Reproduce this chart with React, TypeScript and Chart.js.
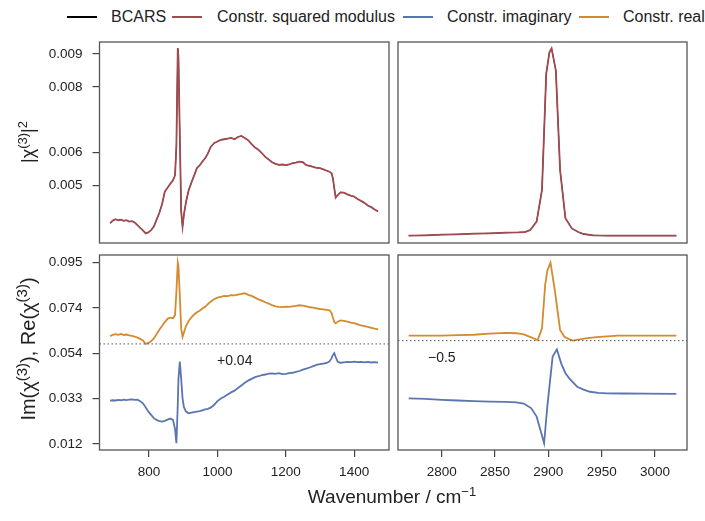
import React, { useEffect, useRef } from 'react';
import { Chart, registerables } from 'chart.js';
Chart.register(...registerables);

const FONT = '"Liberation Sans", Arial, Helvetica, sans-serif';
Chart.defaults.font.family = FONT;

// ---------- colours ----------
const C_BCARS = '#000000';
const C_MOD = '#A04B50';
const C_IMAG = '#5B74B2';
const C_REAL = '#D48A2E';

// ---------- axes ----------
const xRangeLeft = [655, 1502];
const xRangeRight = [2759, 3030];
const xTicksLeft = [800, 1000, 1200, 1400];
const xTicksRight = [2800, 2850, 2900, 2950, 3000];
const yRangeTop = [0.003236, 0.009366];
const yTicksTop = [0.005, 0.006, 0.008, 0.009];
const yTickLabelsTop = ['0.005', '0.006', '0.008', '0.009'];
const yRangeBottom = [0.00942, 0.09873];
const yTicksBottom = [0.0122, 0.03295, 0.0537, 0.07445, 0.0952];
const yTickLabelsBottom = ['0.012', '0.033', '0.054', '0.074', '0.095'];
const dottedLeft = 0.058;
const dottedRight = 0.0595;

// ---------- left region data (fingerprint) ----------
const xLeft = [686, 694, 702, 710, 718, 726, 734, 742, 750, 758, 766, 774, 782, 790, 798, 806, 814, 822, 830, 838, 846, 854, 862, 870, 876, 880, 884, 886, 890, 894, 898, 902, 908, 916, 924, 932, 940, 948, 956, 964, 972, 980, 990, 1000, 1010, 1020, 1030, 1040, 1050, 1060, 1070, 1080, 1090, 1100, 1110, 1120, 1130, 1140, 1150, 1160, 1170, 1180, 1190, 1200, 1210, 1220, 1230, 1240, 1250, 1260, 1270, 1280, 1290, 1300, 1310, 1320, 1328, 1334, 1338, 1342, 1346, 1352, 1360, 1370, 1380, 1390, 1400, 1410, 1420, 1430, 1440, 1450, 1460, 1470];

const modLeft = [0.00384, 0.00392, 0.00396, 0.00393, 0.00395, 0.00391, 0.00393, 0.00389, 0.0039, 0.00386, 0.00378, 0.0037, 0.00362, 0.00353, 0.00356, 0.00363, 0.00374, 0.00395, 0.00415, 0.00442, 0.0048, 0.00492, 0.00504, 0.00515, 0.0053, 0.0062, 0.00917, 0.0089, 0.0065, 0.0042, 0.00373, 0.0041, 0.00448, 0.00485, 0.00508, 0.0053, 0.00552, 0.0056, 0.00572, 0.00582, 0.00596, 0.00616, 0.00628, 0.00633, 0.00638, 0.0064, 0.00642, 0.00644, 0.0064, 0.00647, 0.0065, 0.00644, 0.00637, 0.00625, 0.00615, 0.00608, 0.00598, 0.00586, 0.00578, 0.0057, 0.00565, 0.00562, 0.00563, 0.00561, 0.00563, 0.00567, 0.00569, 0.00572, 0.0057, 0.00561, 0.00559, 0.00556, 0.00553, 0.00552, 0.00548, 0.00544, 0.00541, 0.00536, 0.0052, 0.0049, 0.00462, 0.0047, 0.00478, 0.00477, 0.00472, 0.00468, 0.00465, 0.00458, 0.00452, 0.00446, 0.00438, 0.00433, 0.00426, 0.0042];

const realLeft = [0.0616, 0.0622, 0.0625, 0.0622, 0.0626, 0.0621, 0.0623, 0.0619, 0.0617, 0.0614, 0.0609, 0.0603, 0.0596, 0.058, 0.0585, 0.0592, 0.0605, 0.0625, 0.0645, 0.0662, 0.068, 0.0695, 0.07, 0.0698, 0.0712, 0.082, 0.0952, 0.0935, 0.08, 0.065, 0.0612, 0.0632, 0.0662, 0.0685, 0.0702, 0.0715, 0.0725, 0.0732, 0.0742, 0.075, 0.0762, 0.0773, 0.0785, 0.0792, 0.0796, 0.08, 0.0799, 0.0803, 0.0802, 0.0806, 0.0809, 0.0812, 0.0805, 0.08, 0.0792, 0.0784, 0.0778, 0.0771, 0.0765, 0.0758, 0.0752, 0.075, 0.0749, 0.0751, 0.075, 0.0752, 0.0754, 0.0757, 0.0755, 0.0752, 0.0748, 0.0746, 0.0743, 0.074, 0.0738, 0.0736, 0.0734, 0.0722, 0.07, 0.068, 0.0674, 0.0682, 0.0688, 0.0686, 0.0682, 0.0678, 0.0675, 0.067, 0.0665, 0.0662, 0.0658, 0.0654, 0.065, 0.0647];

const imagLeft = [0.032, 0.0322, 0.0321, 0.0324, 0.0322, 0.0325, 0.0323, 0.0325, 0.0326, 0.0324, 0.0325, 0.0318, 0.0308, 0.029, 0.027, 0.0255, 0.024, 0.0232, 0.0226, 0.0224, 0.0228, 0.0233, 0.0238, 0.0232, 0.019, 0.0125, 0.03, 0.042, 0.0499, 0.042, 0.033, 0.029, 0.027, 0.0262, 0.0265, 0.0268, 0.027, 0.0272, 0.0276, 0.028, 0.0283, 0.0288, 0.03, 0.0318, 0.033, 0.0338, 0.0348, 0.0358, 0.0366, 0.0378, 0.039, 0.0402, 0.0412, 0.042, 0.0428, 0.0432, 0.0437, 0.044, 0.0444, 0.0445, 0.0443, 0.0446, 0.0442, 0.0443, 0.0446, 0.0448, 0.0452, 0.0456, 0.0462, 0.0467, 0.0472, 0.0478, 0.0484, 0.0487, 0.049, 0.0493, 0.05, 0.0515, 0.053, 0.0538, 0.052, 0.0498, 0.0494, 0.0496, 0.0498, 0.0497, 0.0499, 0.0497, 0.0498, 0.0496, 0.0498, 0.0495, 0.0497, 0.0494];

// ---------- right region data (CH stretch) ----------
const xModRight = [2769, 2785, 2800, 2815, 2830, 2845, 2860, 2872, 2878, 2883, 2889, 2894, 2898, 2901, 2903, 2907, 2911, 2916, 2922, 2928, 2933, 2942, 2955, 2970, 2985, 3000, 3020];
const modRight = [0.00346, 0.00347, 0.00349, 0.0035, 0.00352, 0.00353, 0.00355, 0.00356, 0.00357, 0.00363, 0.00389, 0.00485, 0.0084, 0.00905, 0.00917, 0.0085, 0.00546, 0.00399, 0.00368, 0.00357, 0.00351, 0.00347, 0.00346, 0.00346, 0.00346, 0.00346, 0.00346];

const xRealRight = [2769, 2785, 2800, 2815, 2830, 2845, 2860, 2870, 2877, 2884, 2890, 2894, 2897, 2899, 2902, 2906, 2911, 2915, 2919, 2923, 2928, 2935, 2945, 2955, 2965, 2980, 3000, 3020];
const realRight = [0.0618, 0.0618, 0.0618, 0.062, 0.0622, 0.0627, 0.0631, 0.0629, 0.0624, 0.061, 0.0598, 0.065, 0.085, 0.0915, 0.0952, 0.0827, 0.0644, 0.0613, 0.0603, 0.0595, 0.06, 0.0605, 0.0611, 0.0615, 0.0618, 0.0618, 0.0618, 0.0618];

const xImagRight = [2769, 2785, 2800, 2815, 2830, 2845, 2860, 2870, 2877, 2884, 2889, 2893, 2896, 2899, 2904, 2908, 2912, 2916, 2920, 2927, 2933, 2939, 2947, 2955, 2970, 2990, 3020];
const imagRight = [0.0331, 0.0328, 0.0324, 0.0321, 0.0318, 0.0316, 0.0315, 0.0312, 0.0307, 0.0285, 0.0247, 0.0178, 0.0125, 0.0293, 0.0522, 0.0555, 0.0491, 0.0446, 0.042, 0.0384, 0.0371, 0.0361, 0.0356, 0.0354, 0.0353, 0.0352, 0.0351];

// ---------- helpers ----------
const boxPlugin = {
  id: 'panelBox',
  afterDraw(chart: any) {
    const { ctx, chartArea: a } = chart;
    ctx.save();
    ctx.strokeStyle = '#555555';
    ctx.lineWidth = 1.3;
    ctx.strokeRect(a.left, a.top, a.right - a.left, a.bottom - a.top);
    ctx.restore();
  },
};

function series(xs: number[], ys: number[], color: string, width = 1.8, dash: number[] = []) {
  return {
    data: xs.map((x, i) => ({ x, y: ys[i] })),
    borderColor: color,
    backgroundColor: color,
    borderWidth: width,
    borderDash: dash,
    pointRadius: 0,
    tension: 0,
    fill: false,
  };
}

const tickFont = { family: FONT, size: 13.5 };
const gridOpts = { display: true, drawOnChartArea: false, drawTicks: true, tickLength: 7, color: '#444444', lineWidth: 1.2 };

function makeConfig(opts: any) {
  const { xRange, yRange, xTicks, yTicks, yLabels, showX, showY, datasets, padding } = opts;
  return {
    type: 'line',
    data: { datasets },
    options: {
      responsive: false,
      animation: false,
      devicePixelRatio: 1,
      layout: { padding },
      plugins: { legend: { display: false }, tooltip: { enabled: false } },
      scales: {
        x: {
          type: 'linear',
          min: xRange[0],
          max: xRange[1],
          display: showX,
          afterBuildTicks: (s: any) => { s.ticks = xTicks.map((v: number) => ({ value: v })); },
          afterFit: (s: any) => { if (showX) s.height = 35; },
          grid: gridOpts,
          border: { display: false },
          ticks: {
            autoSkip: false, maxRotation: 0, minRotation: 0, padding: 7, color: '#222222', font: tickFont,
            callback: (v: any) => String(v),
          },
        },
        y: {
          type: 'linear',
          min: yRange[0],
          max: yRange[1],
          display: showY,
          afterBuildTicks: (s: any) => { s.ticks = yTicks.map((v: number) => ({ value: v })); },
          afterFit: (s: any) => { if (showY) s.width = 99.5; },
          grid: gridOpts,
          border: { display: false },
          ticks: {
            autoSkip: false,
            padding: 10,
            color: '#222222',
            font: tickFont,
            callback: (_v: any, i: number) => yLabels[i],
          },
        },
      },
    },
    plugins: [boxPlugin],
  };
}

function Panel(props: { left: number; top: number; width: number; height: number; config: any }) {
  const ref = useRef<HTMLCanvasElement>(null);
  useEffect(() => {
    const chart = new Chart(ref.current as HTMLCanvasElement, props.config);
    return () => chart.destroy();
  }, []);
  return (
    <canvas
      ref={ref}
      width={props.width}
      height={props.height}
      style={{ position: 'absolute', left: props.left, top: props.top, width: props.width, height: props.height }}
    />
  );
}

const legendItems = [
  { label: 'BCARS', color: C_BCARS, lineX: 67, textX: 111 },
  { label: 'Constr. squared modulus', color: C_MOD, lineX: 172, textX: 217 },
  { label: 'Constr. imaginary', color: C_IMAG, lineX: 403, textX: 447 },
  { label: 'Constr. real', color: C_REAL, lineX: 579, textX: 623 },
];

export default function App() {
  const tl = makeConfig({
    xRange: xRangeLeft, yRange: yRangeTop, xTicks: xTicksLeft, yTicks: yTicksTop, yLabels: yTickLabelsTop,
    showX: false, showY: true, padding: { top: 20, bottom: 20, left: 0, right: 3 },
    datasets: [series(xLeft, modLeft, C_MOD, 1.8), series(xLeft, modLeft, C_BCARS, 1.0)],
  });
  const tr = makeConfig({
    xRange: xRangeRight, yRange: yRangeTop, xTicks: xTicksRight, yTicks: yTicksTop, yLabels: yTickLabelsTop,
    showX: false, showY: false, padding: { top: 20, bottom: 20, left: 3, right: 3 },
    datasets: [series(xModRight, modRight, C_MOD, 1.8), series(xModRight, modRight, C_BCARS, 1.0)],
  });
  const bl = makeConfig({
    xRange: xRangeLeft, yRange: yRangeBottom, xTicks: xTicksLeft, yTicks: yTicksBottom, yLabels: yTickLabelsBottom,
    showX: true, showY: true, padding: { top: 20, bottom: 0, left: 0, right: 3 },
    datasets: [
      series(xRangeLeft, [dottedLeft, dottedLeft], '#555555', 1, [1.5, 2.5]),
      series(xLeft, realLeft, C_REAL, 1.8),
      series(xLeft, imagLeft, C_IMAG, 1.8),
    ],
  });
  const br = makeConfig({
    xRange: xRangeRight, yRange: yRangeBottom, xTicks: xTicksRight, yTicks: yTicksBottom, yLabels: yTickLabelsBottom,
    showX: true, showY: false, padding: { top: 20, bottom: 0, left: 3, right: 3 },
    datasets: [
      series(xRangeRight, [dottedRight, dottedRight], '#555555', 1, [1.5, 2.5]),
      series(xRealRight, realRight, C_REAL, 1.8),
      series(xImagRight, imagRight, C_IMAG, 1.8),
    ],
  });

  const textStyle: React.CSSProperties = { position: 'absolute', color: '#222', fontFamily: FONT, whiteSpace: 'nowrap' };
  const supStyle: React.CSSProperties = { fontSize: 13, verticalAlign: '0.55em', lineHeight: 0 };
  const supStyleL: React.CSSProperties = { fontSize: 15, verticalAlign: '0.55em', lineHeight: 0 };

  return (
    <div style={{ position: 'absolute', left: 0, top: 0, width: 705, height: 521, background: '#ffffff', overflow: 'hidden', fontFamily: FONT }}>
      {legendItems.map((it) => (
        <React.Fragment key={it.label}>
          <div style={{ position: 'absolute', left: it.lineX, top: 16, width: 30, height: 2, background: it.color }} />
          <div style={{ ...textStyle, left: it.textX, top: 8, fontSize: 16, lineHeight: '18px' }}>{it.label}</div>
        </React.Fragment>
      ))}

      <Panel left={0} top={22} width={392} height={241} config={tl} />
      <Panel left={395} top={22} width={295} height={241} config={tr} />
      <Panel left={0} top={235} width={392} height={250} config={bl} />
      <Panel left={395} top={235} width={295} height={250} config={br} />

      <div style={{ ...textStyle, left: 217, top: 351, fontSize: 14, lineHeight: '18px' }}>+0.04</div>
      <div style={{ ...textStyle, left: 428, top: 348, fontSize: 14, lineHeight: '18px' }}>−0.5</div>

      <div style={{ ...textStyle, left: 28, top: 142, fontSize: 18, lineHeight: '22px', transform: 'translate(-50%, -50%) rotate(-90deg)' }}>
        |χ<sup style={supStyle}>(3)</sup>|<sup style={supStyle}>2</sup>
      </div>
      <div style={{ ...textStyle, left: 28, top: 349, fontSize: 20, lineHeight: '22px', transform: 'translate(-50%, -50%) rotate(-90deg)' }}>
        Im(χ<sup style={supStyleL}>(3)</sup>), Re(χ<sup style={supStyleL}>(3)</sup>)
      </div>
      <div style={{ ...textStyle, left: 392, top: 497, fontSize: 19, lineHeight: '22px', transform: 'translate(-50%, -50%)' }}>
        Wavenumber / cm<sup style={supStyle}>−1</sup>
      </div>
    </div>
  );
}
